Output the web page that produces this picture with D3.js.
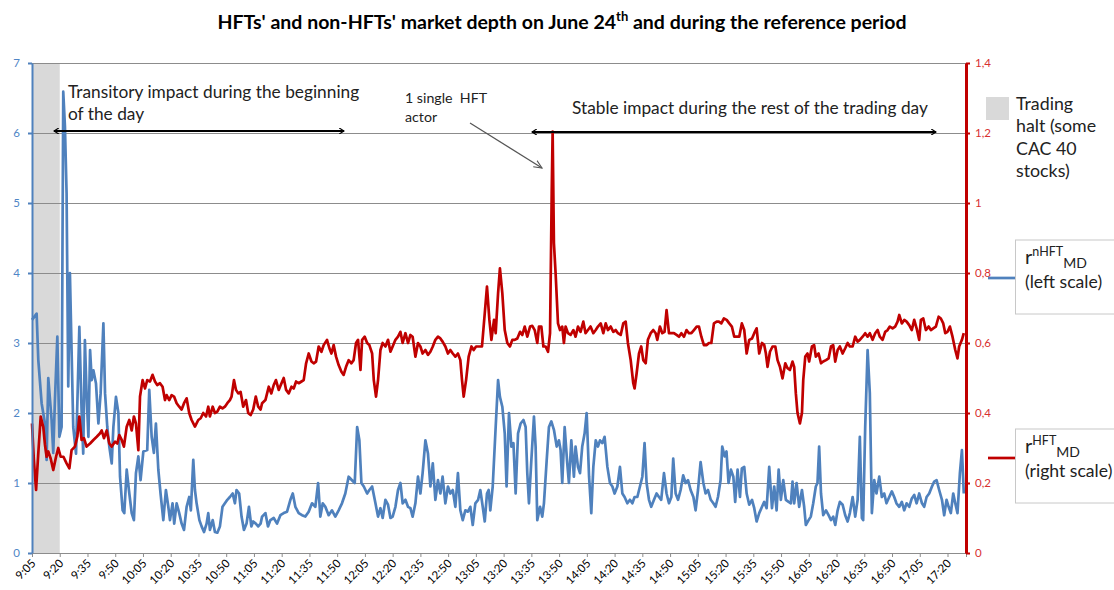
<!DOCTYPE html>
<html>
<head>
<meta charset="utf-8">
<script src="https://cdn.jsdelivr.net/npm/d3@7"></script>
<style>
  body { margin: 0; background: #fff; }
  svg text { font-family: Lato, 'Open Sans', sans-serif; }
</style>
</head>
<body>
<script>
// x labels every 15 minutes, positions are minutes after 9:05
var timeLabels = ['9:05', '9:20', '9:35', '9:50', '10:05', '10:20', '10:35', '10:50', '11:05', '11:20', '11:35',
  '11:50', '12:05', '12:20', '12:35', '12:50', '13:05', '13:20', '13:35', '13:50', '14:05', '14:20', '14:35',
  '14:50', '15:05', '15:20', '15:35', '15:50', '16:05', '16:20', '16:35', '16:50', '17:05', '17:20'];
var leftTicks = [0, 1, 2, 3, 4, 5, 6, 7];
var rightTicks = [0, 0.2, 0.4, 0.6, 0.8, 1, 1.2, 1.4];
var rightTickLabels = ['0', '0,2', '0,4', '0,6', '0,8', '1', '1,2', '1,4'];
var haltPeriod = [0, 15];

// r nHFT MD (left scale): [minutes after 9:05, value]
var nhft = [[0,3.33],[2.5,3.42],[3.4,2.76],[5.2,2.14],[7,1.85],[7.9,1.33],[8.8,2.5],[10.6,1.9],[11.5,1.43],[12.4,2.19],
  [13.7,3.09],[14.8,1.66],[16,1.8],[16.9,6.59],[17.8,6.1],[18.7,5.14],[19.6,2.38],[20.5,4.0],[21.4,2.9],[22.3,1.8],
  [23.8,1.42],[25.6,3.23],[26.8,2.04],[27.7,1.42],[28.6,3.04],[29.5,2.28],[30.5,1.66],[31.4,2.9],[32.3,2.47],[33.2,2.61],
  [34.6,2.42],[35.9,1.85],[37.1,2.28],[38.6,3.28],[39.5,2.28],[40.7,1.8],[41.8,1.52],[43.1,1.28],[44,1.8],[45.4,2.23],
  [46.7,2.0],[47.6,1.09],[49,0.61],[49.9,0.57],[51.2,1.19],[52.4,0.9],[53.9,0.57],[55.1,0.47],[56.2,1.14],[57.5,1.38],
  [58.7,1.04],[60.2,1.45],[62.3,1.47],[63.4,2.33],[64.7,1.66],[65.9,1.43],[67,1.85],[68.3,1.19],[69.5,0.85],[71,0.47],
  [72.4,0.9],[73.7,0.66],[74.6,0.47],[76,0.71],[76.9,0.42],[78.2,0.71],[79.6,0.57],[80.9,0.42],[82.2,0.33],[83.6,0.66],
  [85,0.8],[85.9,0.61],[87.2,1.33],[88.1,0.9],[89,0.71],[90.5,0.47],[91.7,0.38],[93,0.3],[94.4,0.42],[95.3,0.57],
  [96.2,0.33],[97.7,0.47],[98.9,0.3],[100.2,0.29],[101.6,0.38],[103,0.66],[104.3,0.71],[105.6,0.76],[107,0.8],[108.5,0.85],
  [109.7,0.71],[110.6,0.9],[112,0.85],[113.3,0.52],[114.6,0.33],[116,0.42],[117.3,0.66],[118.6,0.38],[119.6,0.45],[121,0.42],
  [122.3,0.38],[123.6,0.42],[124.4,0.52],[126.2,0.57],[127.6,0.38],[128.9,0.47],[130.7,0.5],[132.5,0.42],[134.3,0.54],[136.1,0.57],
  [137.9,0.59],[139.7,0.76],[141,0.85],[142.4,0.66],[144.2,0.57],[146,0.54],[147.8,0.52],[149.6,0.59],[151.4,0.71],[153.2,0.66],
  [154.7,1.0],[155.9,0.52],[157.2,0.71],[158.6,0.66],[160.4,0.54],[162.2,0.61],[164,0.52],[165.8,0.61],[167.6,0.71],[169.4,0.85],
  [171.2,1.09],[173,1.04],[174.5,1.0],[175.8,1.8],[177,1.61],[178.1,1.0],[179.4,0.95],[181.2,0.85],[182.4,0.9],[183.9,0.95],
  [185.7,0.71],[187.1,0.52],[188.4,0.64],[189.6,0.5],[191.1,0.76],[192.5,0.69],[193.8,0.5],[195,0.52],[196.5,0.66],[197.9,0.9],
  [199.2,1.0],[200.4,0.71],[201.9,0.76],[203.3,0.66],[204.6,0.64],[205.8,0.52],[207.3,0.71],[208.7,1.09],[210,0.85],[211.2,1.14],
  [212.7,1.61],[214.1,1.42],[215.4,0.95],[216.7,1.28],[218.1,0.76],[219.5,1.04],[220.8,0.85],[222,1.09],[223.5,0.71],[224.9,0.95],
  [226.2,0.85],[227.5,0.9],[228.9,0.66],[230.3,1.14],[231.6,0.61],[232.9,0.47],[234.3,0.61],[235.7,0.59],[237,0.66],[238.3,0.4],
  [239.7,0.71],[241.2,0.76],[242.4,0.9],[243.7,0.66],[244.8,0.45],[246,0.85],[246.9,0.9],[247.8,0.61],[249.1,0.95],[250.7,1.8],
  [252,2.47],[253,2.23],[254.3,2.09],[255.6,1.71],[256.6,0.95],[257.9,2.0],[259.2,1.52],[260.3,1.57],[261.5,0.85],[262.8,1.71],
  [264.2,1.85],[265.7,1.9],[266.9,1.8],[267.8,1.14],[268.7,0.71],[270,1.33],[271.4,1.95],[272.3,1.52],[273.2,0.47],[274.7,0.66],
  [275.9,0.52],[276.8,0.71],[278.3,1.33],[279.5,1.8],[280.8,1.88],[282.2,1.76],[283.7,1.52],[284.9,1.61],[285.8,1.47],[286.7,1.0],
  [288,1.8],[289.4,1.28],[290.3,1.0],[291.6,1.61],[293,1.09],[293.9,1.52],[295.2,1.23],[296.3,1.14],[297.5,1.52],[298.8,1.71],
  [299.9,2.0],[301.2,1.09],[302.4,0.57],[303.5,1.23],[304.8,1.61],[306,1.52],[307.1,1.61],[308.4,1.57],[309.6,1.66],[311.1,1.23],
  [312.5,1.0],[313.8,0.95],[315,0.85],[316.5,0.95],[317.9,1.23],[319.2,0.85],[320.4,0.8],[321.9,0.71],[323.3,0.76],[324.6,0.71],
  [325.8,0.8],[327.3,0.8],[328.7,0.95],[330,1.09],[331.2,1.57],[332.3,1.0],[333.6,0.76],[334.8,0.66],[336.3,0.76],[337.7,0.85],
  [339,0.8],[340.2,0.76],[341.7,1.14],[343.1,0.85],[344.4,0.71],[345.7,0.8],[346.7,1.35],[348,0.85],[349.3,0.76],[350.7,0.9],
  [352.1,1.11],[353.4,1.0],[354.7,1.04],[356.1,0.9],[357.6,0.8],[358.8,0.61],[360.1,0.9],[361.5,1.3],[363,1.0],[364.2,0.85],
  [365.5,0.9],[367,0.76],[368.4,0.71],[369.6,0.66],[370.9,0.8],[372.3,1.04],[373.2,1.52],[374.5,1.38],[375.5,1.45],[376.6,1.0],
  [377.9,1.19],[379.2,1.09],[380.2,0.73],[381.5,1.19],[382.8,0.8],[383.8,1.21],[385.1,1.23],[386.4,0.85],[387.8,0.69],[389.3,0.76],
  [390.5,0.64],[391.8,0.45],[393.2,0.57],[394.7,0.66],[395.9,0.73],[397.2,0.64],[398.6,1.23],[400.1,0.64],[401.3,0.95],[402.6,0.61],
  [403.7,1.19],[404.9,0.76],[406.2,1.04],[407.6,0.76],[409.1,0.73],[410.3,0.71],[411.2,1.02],[412.1,0.71],[413.4,1.0],[414.8,0.66],
  [416.3,0.9],[417.5,0.66],[418.4,0.4],[419.9,0.47],[421.1,0.52],[422.4,0.71],[423.8,0.95],[424.7,1.0],[425.6,1.52],[426.6,0.85],
  [427.8,0.54],[429.3,0.61],[430.7,0.54],[432,0.47],[433.2,0.52],[434.3,0.4],[435.6,0.61],[436.8,0.73],[438.3,0.69],[439.7,0.54],
  [441,0.45],[442.2,0.57],[443.7,0.8],[445.1,0.52],[446.4,0.76],[447.6,1.66],[448.7,0.5],[449.4,0.47],[450.5,1.8],[451.8,2.9],
  [453,2.28],[454.1,0.57],[455.4,1.04],[456.6,0.85],[458.1,1.09],[459.5,0.8],[460.8,0.85],[462,0.71],[463.5,0.8],[464.9,0.88],
  [466.2,0.8],[467.4,0.71],[468.9,0.66],[470.3,0.73],[471.6,0.61],[472.9,0.71],[474.3,0.66],[475.7,0.78],[477,0.83],[478.3,0.71],
  [479.7,0.85],[481.2,0.71],[482.4,0.66],[483.7,0.8],[485.1,0.85],[486.6,0.95],[487.8,1.02],[489.1,1.04],[490.5,0.9],[492,0.76],
  [493.2,0.54],[494.5,0.76],[495.6,0.66],[496.8,0.57],[498.1,0.85],[499.2,0.71],[500.4,0.57],[501.7,1.14],[502.8,1.47],[503.8,0.85]];

// r HFT MD (right scale): [minutes after 9:05, value]
var hft = [[0,0.37],[1,0.266],[2.2,0.18],[3.4,0.285],[4.7,0.39],[6.1,0.36],[7,0.31],[7.9,0.275],[8.8,0.29],[10.1,0.27],
  [11.5,0.237],[13,0.275],[14.2,0.3],[15.5,0.275],[17,0.275],[18.7,0.256],[20.2,0.242],[21.4,0.294],[23.2,0.304],[24.5,0.332],
  [25.6,0.39],[26.8,0.323],[28.1,0.328],[29.5,0.304],[31.4,0.313],[33.2,0.323],[35,0.332],[36.8,0.342],[37.7,0.35],[38.9,0.328],
  [40.4,0.35],[41.8,0.313],[43.1,0.304],[44.9,0.318],[46.1,0.313],[47.2,0.337],[48.5,0.323],[49.7,0.304],[51.2,0.361],[52.6,0.38],
  [53.9,0.35],[55.1,0.39],[56.2,0.37],[57.5,0.294],[58.4,0.447],[59.8,0.494],[61.1,0.47],[62.3,0.494],[63.8,0.49],[65.2,0.509],
  [66.5,0.49],[67.7,0.48],[69.2,0.485],[70.6,0.475],[71.9,0.437],[72.8,0.451],[74.2,0.437],[75.5,0.451],[76.8,0.447],[78.2,0.428],
  [79.6,0.418],[80.9,0.41],[82.2,0.428],[83.6,0.442],[85,0.4],[86.3,0.38],[88.1,0.361],[89.9,0.38],[91.2,0.385],[92.6,0.4],
  [94.1,0.39],[95.3,0.418],[96.2,0.39],[97.7,0.418],[98.9,0.4],[100.2,0.404],[101.6,0.418],[103,0.413],[104.3,0.418],[105.6,0.428],
  [107,0.437],[107.9,0.447],[109.2,0.494],[110.3,0.466],[111.5,0.456],[112.8,0.46],[114.2,0.418],[115.7,0.437],[116.9,0.4],[118.2,0.394],
  [119.6,0.41],[121,0.447],[122.3,0.418],[123.6,0.41],[124.4,0.428],[126.2,0.437],[128,0.475],[129.4,0.456],[130.7,0.48],[131.9,0.494],
  [133.4,0.466],[134.9,0.485],[136.1,0.5],[137.4,0.466],[138.8,0.456],[140.3,0.475],[141.5,0.47],[142.8,0.49],[144.2,0.485],[145.7,0.49],
  [146.9,0.494],[148.2,0.542],[149.6,0.57],[151.1,0.547],[152.3,0.542],[153.6,0.547],[155,0.59],[156.5,0.575],[157.7,0.594],[159.5,0.609],
  [160.8,0.585],[161.9,0.57],[163.1,0.594],[164.4,0.561],[165.8,0.537],[167.3,0.518],[168.5,0.509],[169.8,0.532],[171.2,0.551],[172.7,0.542],
  [173.9,0.551],[175.2,0.6],[176.3,0.609],[177.6,0.523],[178.5,0.609],[179.9,0.618],[181.2,0.6],[182.4,0.594],[183.9,0.57],[184.8,0.494],
  [186,0.447],[187.1,0.494],[188.4,0.58],[189.6,0.6],[191.1,0.59],[192.5,0.609],[193.8,0.575],[195,0.59],[196.5,0.609],[197.9,0.618],
  [199.2,0.632],[200.4,0.6],[201.9,0.628],[203.3,0.6],[204.6,0.623],[205.8,0.618],[207.3,0.561],[208.7,0.6],[210,0.59],[211.2,0.57],
  [212.7,0.58],[214.1,0.566],[215.4,0.575],[216.7,0.59],[218.1,0.609],[219.5,0.618],[220.8,0.613],[222,0.604],[223.5,0.59],[224.9,0.57],
  [226.2,0.58],[227.5,0.57],[228.9,0.561],[230.3,0.57],[231.6,0.551],[232.5,0.494],[233.4,0.447],[234.7,0.494],[236.1,0.561],[237.6,0.59],
  [238.8,0.58],[240.1,0.59],[241.5,0.59],[243.3,0.59],[244.8,0.685],[246,0.761],[247.3,0.666],[248.4,0.609],[249.8,0.666],[250.7,0.628],
  [252,0.742],[253,0.813],[254.3,0.742],[255.6,0.637],[257,0.6],[258.4,0.59],[259.7,0.609],[261,0.609],[262.4,0.613],[263.9,0.632],
  [265.1,0.623],[266.4,0.647],[267.8,0.618],[269.3,0.647],[270.5,0.649],[271.8,0.637],[273.2,0.6],[274.1,0.647],[275.4,0.647],[276.5,0.59],
  [277.7,0.59],[279,0.575],[280.1,0.628],[281,1.028],[281.5,1.204],[282.2,0.885],[283.1,0.8],[284.4,0.656],[285.5,0.637],[286.7,0.647],
  [287.6,0.6],[288.5,0.647],[289.8,0.628],[291.2,0.623],[292.7,0.637],[293.9,0.618],[295.2,0.647],[296.6,0.632],[298.1,0.661],[299.3,0.628],
  [300.6,0.637],[302,0.647],[303.5,0.628],[304.8,0.637],[306,0.647],[307.5,0.656],[308.9,0.628],[310.2,0.656],[311.4,0.637],[312.9,0.647],
  [314.3,0.632],[315.6,0.637],[316.8,0.628],[318.3,0.623],[319.7,0.656],[321,0.661],[322.2,0.6],[323.7,0.551],[325.1,0.485],[325.8,0.47],
  [326.9,0.513],[328.2,0.57],[329.4,0.59],[330.5,0.551],[331.8,0.542],[333,0.609],[334.5,0.628],[335.9,0.637],[337.2,0.628],[338.1,0.609],
  [339.5,0.647],[340.8,0.628],[342,0.632],[343.1,0.694],[344.4,0.628],[345.7,0.628],[347.1,0.628],[348.5,0.623],[349.8,0.618],[351.1,0.628],
  [352.5,0.618],[353.9,0.637],[355.2,0.628],[356.5,0.628],[357.9,0.637],[359.4,0.647],[360.6,0.647],[361.9,0.618],[363.3,0.594],[364.8,0.594],
  [366,0.6],[367.3,0.6],[368.7,0.656],[370.2,0.661],[371.4,0.661],[372.7,0.656],[374.1,0.67],[375.6,0.666],[377,0.656],[378.4,0.647],
  [379.7,0.618],[381,0.618],[382.4,0.618],[383.8,0.656],[385.1,0.637],[386.4,0.57],[387.8,0.609],[389.3,0.613],[390.5,0.628],[391.8,0.642],
  [393.2,0.57],[394.7,0.6],[395.9,0.594],[396.8,0.57],[397.7,0.532],[399,0.575],[400.4,0.59],[401.9,0.59],[403.1,0.551],[404.4,0.532],
  [405.8,0.499],[407.3,0.542],[408.5,0.528],[409.8,0.523],[411.2,0.547],[412.1,0.532],[413,0.456],[413.9,0.4],[415.2,0.37],[416.3,0.4],
  [417,0.494],[418.1,0.561],[419.3,0.57],[420.2,0.547],[421.7,0.59],[422.9,0.594],[423.8,0.561],[425.3,0.57],[426.6,0.542],[427.8,0.547],
  [429.3,0.551],[430.7,0.556],[432,0.59],[433.2,0.594],[434.3,0.547],[435.6,0.58],[436.8,0.59],[438.3,0.57],[439.7,0.585],[441,0.6],
  [442.2,0.59],[443.7,0.59],[445.1,0.618],[446.4,0.604],[447.6,0.609],[449.1,0.618],[450.5,0.628],[451.8,0.618],[453,0.628],[454.5,0.609],
  [455.9,0.628],[457.2,0.637],[458.4,0.618],[459.9,0.609],[461.3,0.632],[462.6,0.637],[463.8,0.647],[465.3,0.642],[466.7,0.647],[468,0.661],
  [468.9,0.68],[470.3,0.656],[471.6,0.666],[472.9,0.661],[474.3,0.651],[475.7,0.637],[477,0.666],[478.3,0.642],[479.7,0.609],[480.6,0.666],
  [481.9,0.67],[483.3,0.637],[484.8,0.647],[486,0.637],[487.3,0.642],[488.7,0.647],[490.2,0.675],[491.4,0.67],[492.7,0.656],[493.8,0.628],
  [495,0.632],[496.3,0.647],[497.7,0.618],[499.2,0.58],[500.4,0.556],[501.3,0.59],[502.8,0.609],[503.8,0.628]];

var blue = '#4f81bd',
  red = '#c00000',
  width = 1114,
  height = 590;

var svg = d3.select('body').append('svg').attr('width', width).attr('height', height);

var x = d3.scaleLinear().domain([0, 505]).range([32, 966]);
var yL = d3.scaleLinear().domain([0, 7]).range([553, 63]);
var yR = d3.scaleLinear().domain([0, 1.4]).range([553, 63]);

var defs = svg.append('defs');
defs.append('marker')
  .attr('id', 'head')
  .attr('viewBox', '0 0 10 10')
  .attr('refX', 9).attr('refY', 5)
  .attr('markerWidth', 6).attr('markerHeight', 6)
  .attr('markerUnits', 'userSpaceOnUse')
  .attr('orient', 'auto-start-reverse')
  .append('path')
  .attr('d', 'M1,0 L9,5 L1,10')
  .style('fill', 'none').style('stroke', '#000').style('stroke-width', 2);
defs.append('marker')
  .attr('id', 'thin')
  .attr('viewBox', '0 0 10 10')
  .attr('refX', 9).attr('refY', 5)
  .attr('markerWidth', 9).attr('markerHeight', 9)
  .attr('markerUnits', 'userSpaceOnUse')
  .attr('orient', 'auto')
  .append('path')
  .attr('d', 'M0,1 L9,5 L0,9')
  .style('fill', 'none').style('stroke', '#555').style('stroke-width', 1.2);

// title
var title = svg.append('text')
  .attr('x', 562).attr('y', 29)
  .attr('text-anchor', 'middle')
  .style('font-weight', 'bold')
  .style('font-size', '19.5px');
title.append('tspan').text("HFTs' and non-HFTs' market depth on June 24");
title.append('tspan').attr('dy', -8).style('font-size', '13px').text('th');
title.append('tspan').attr('dy', 8).text(' and during the reference period');

// trading halt band
svg.append('rect')
  .attr('x', x(haltPeriod[0]))
  .attr('y', yL(7))
  .attr('width', x(haltPeriod[1]) - x(haltPeriod[0]))
  .attr('height', yL(0) - yL(7))
  .style('fill', '#d9d9d9');

// gridlines
var grid = svg.append('g')
  .attr('transform', 'translate(' + x(0) + ',0)')
  .call(d3.axisLeft(yL).tickValues(leftTicks.slice(1)).tickSize(-(x(505) - x(0))).tickFormat(''));
grid.select('.domain').remove();
grid.selectAll('line').style('stroke', '#8c8c8c').style('stroke-width', 1);

// x axis
var xAxis = svg.append('g')
  .attr('transform', 'translate(0,' + yL(0) + ')')
  .call(d3.axisBottom(x)
    .tickValues(timeLabels.map(function(d, i) { return i * 15; }))
    .tickSize(4)
    .tickFormat(function(d, i) { return timeLabels[i]; }));
xAxis.select('.domain').style('stroke', '#8c8c8c');
xAxis.selectAll('line').style('stroke', '#8c8c8c');
xAxis.selectAll('text')
  .attr('text-anchor', 'end')
  .attr('dy', 0)
  .attr('y', 0)
  .attr('transform', 'translate(4,11) rotate(-45)')
  .style('font-size', '11.5px')
  .style('fill', '#000');

// lines
var lineL = d3.line()
  .x(function(d) { return x(d[0]); })
  .y(function(d) { return yL(d[1]); });
var lineR = d3.line()
  .x(function(d) { return x(d[0]); })
  .y(function(d) { return yR(d[1]); });

svg.append('path')
  .datum(nhft)
  .attr('d', lineL)
  .style('fill', 'none')
  .style('stroke', blue)
  .style('stroke-width', 2.7)
  .style('stroke-linejoin', 'round');

svg.append('path')
  .datum(hft)
  .attr('d', lineR)
  .style('fill', 'none')
  .style('stroke', red)
  .style('stroke-width', 2.7)
  .style('stroke-linejoin', 'round');

// left axis
var leftAxis = svg.append('g')
  .attr('transform', 'translate(' + x(0) + ',0)')
  .call(d3.axisLeft(yL).tickValues(leftTicks).tickSize(4).tickSizeOuter(0).tickFormat(d3.format('d')));
leftAxis.select('.domain').style('stroke', blue).style('stroke-width', 2);
leftAxis.selectAll('line').style('stroke', blue).style('stroke-width', 2);
leftAxis.selectAll('text').style('fill', '#4f86c6').style('font-size', '11.5px').attr('x', -12);

// right axis
var rightAxis = svg.append('g')
  .attr('transform', 'translate(' + x(505) + ',0)')
  .call(d3.axisRight(yR).tickValues(rightTicks).tickSize(4).tickSizeOuter(0)
    .tickFormat(function(d, i) { return rightTickLabels[i]; }));
rightAxis.select('.domain').style('stroke', red).style('stroke-width', 3);
rightAxis.selectAll('line').style('stroke', red).style('stroke-width', 2);
rightAxis.selectAll('text').style('fill', '#d83030').style('font-size', '11.5px').attr('x', 9);

// annotations
svg.append('text').attr('x', 68).attr('y', 98).style('font-size', '17.3px').style('fill', '#222')
  .text('Transitory impact during the beginning');
svg.append('text').attr('x', 68).attr('y', 120).style('font-size', '17.3px').style('fill', '#222')
  .text('of the day');
svg.append('line')
  .attr('x1', 54).attr('y1', 131).attr('x2', 344).attr('y2', 131)
  .attr('marker-start', 'url(#head)').attr('marker-end', 'url(#head)')
  .style('stroke', '#000').style('stroke-width', 2);

svg.append('text').attr('x', 405).attr('y', 103).style('font-size', '14.2px').style('fill', '#222')
  .style('white-space', 'pre').text('1 single  HFT');
svg.append('text').attr('x', 405).attr('y', 122).style('font-size', '14.2px').style('fill', '#222')
  .text('actor');
svg.append('line')
  .attr('x1', 470).attr('y1', 123).attr('x2', 542).attr('y2', 168)
  .attr('marker-end', 'url(#thin)')
  .style('stroke', '#555').style('stroke-width', 1.2);

svg.append('text').attr('x', 572).attr('y', 114).style('font-size', '17.3px').style('fill', '#222')
  .text('Stable impact during the rest of the trading day');
svg.append('line')
  .attr('x1', 532).attr('y1', 132).attr('x2', 936).attr('y2', 132)
  .attr('marker-start', 'url(#head)').attr('marker-end', 'url(#head)')
  .style('stroke', '#000').style('stroke-width', 2);

// legend: trading halt
svg.append('rect')
  .attr('x', 986).attr('y', 97).attr('width', 23).attr('height', 23)
  .style('fill', '#d9d9d9');
['Trading', 'halt (some', 'CAC 40', 'stocks)'].forEach(function(t, i) {
  svg.append('text')
    .attr('x', 1016).attr('y', 110 + i * 22.3)
    .style('font-size', '17.8px').style('fill', '#222')
    .text(t);
});

// legend boxes
function legendBox(y0, color, sup, note, lineY) {
  svg.append('rect')
    .attr('x', 1015.5).attr('y', y0).attr('width', 110).attr('height', 74)
    .style('fill', '#fff').style('stroke', '#c8c8c8');
  svg.append('line')
    .attr('x1', 988).attr('x2', 1015).attr('y1', lineY).attr('y2', lineY)
    .style('stroke', color).style('stroke-width', 2.7);
  var t = svg.append('text')
    .attr('x', 1025).attr('y', y0 + 24)
    .style('font-size', '20px').style('fill', '#222');
  t.append('tspan').text('r');
  t.append('tspan').attr('dy', -8).style('font-size', '12.5px').text(sup);
  t.append('tspan').attr('dy', 12).style('font-size', '14px').text('MD');
  svg.append('text')
    .attr('x', 1025).attr('y', y0 + 48)
    .style('font-size', '17.6px').style('fill', '#222')
    .text(note);
}
legendBox(240, blue, 'nHFT', '(left scale)', 278);
legendBox(429, red, 'HFT', '(right scale)', 458);
</script>
</body>
</html>
